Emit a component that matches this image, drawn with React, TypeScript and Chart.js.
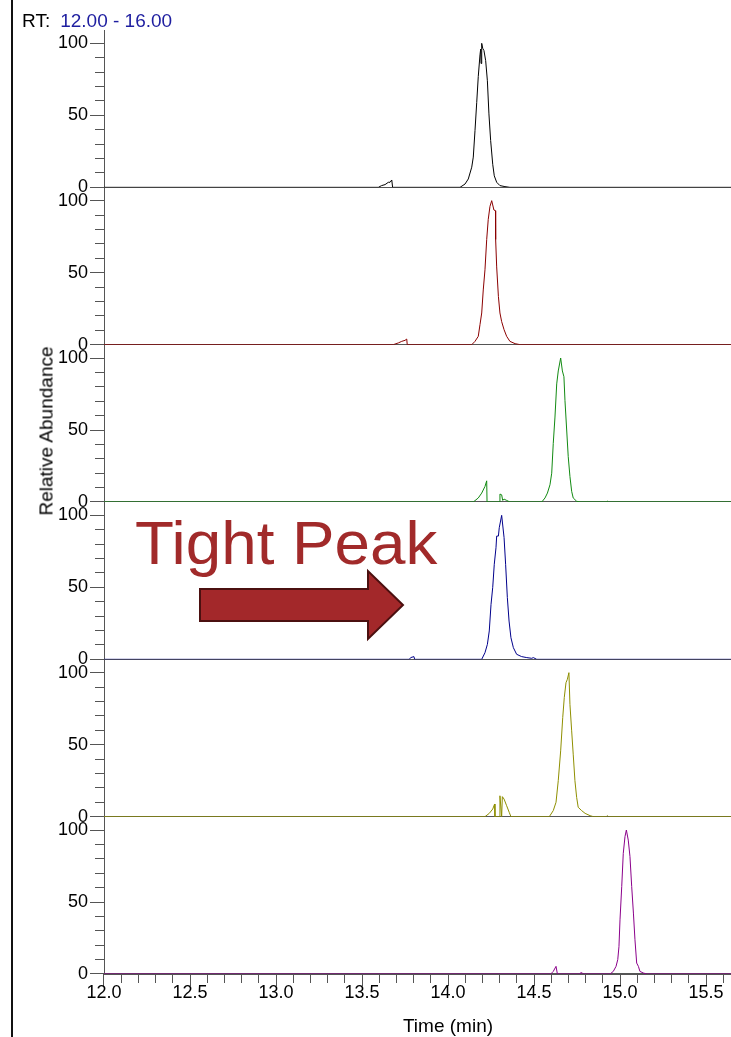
import React, { useEffect, useRef } from "react";
import { Chart, registerables } from "chart.js";

Chart.register(...registerables);

// ---------- data ----------
const rtRangeText = "12.00 - 16.00";
const xAxisTitle = "Time (min)";
const yAxisTitle = "Relative Abundance";
const annotationText = "Tight Peak";

const xTickValues = [
  12.0, 12.1, 12.2, 12.3, 12.4, 12.5, 12.6, 12.7, 12.8, 12.9,
  13.0, 13.1, 13.2, 13.3, 13.4, 13.5, 13.6, 13.7, 13.8, 13.9,
  14.0, 14.1, 14.2, 14.3, 14.4, 14.5, 14.6, 14.7, 14.8, 14.9,
  15.0, 15.1, 15.2, 15.3, 15.4, 15.5, 15.6, 15.7, 15.8, 15.9, 16.0,
];
const xLabelValues = [12.0, 12.5, 13.0, 13.5, 14.0, 14.5, 15.0, 15.5, 16.0];
const yTickValues = [0, 10, 20, 30, 40, 50, 60, 70, 80, 90, 100];
const yLabelValues = [0, 50, 100];

// [time (min), relative abundance (%)]
const traceBlack = [
  [12.0, 0], [13.595, 0], [13.614, 1.2], [13.634, 1.9], [13.653, 3.5], [13.663, 3.5],
  [13.673, 5.1], [13.678, 0], [14.07, 0], [14.099, 2.3], [14.118, 5.8], [14.138, 14],
  [14.147, 21], [14.157, 39.5], [14.167, 59], [14.176, 77], [14.186, 92], [14.19, 96],
  [14.192, 86], [14.196, 100], [14.202, 96.5], [14.209, 95], [14.219, 88], [14.229, 74],
  [14.238, 51], [14.248, 32.5], [14.26, 16], [14.269, 8], [14.283, 3.5], [14.302, 1.2],
  [14.331, 0.5], [14.36, 0], [16.0, 0],
];
const traceRed = [
  [12.0, 0], [13.682, 0], [13.711, 1.2], [13.731, 2.3], [13.75, 3], [13.76, 3.9],
  [13.763, 0], [14.138, 0], [14.157, 2.3], [14.176, 5.8], [14.186, 13.9], [14.196, 22],
  [14.205, 38], [14.215, 52], [14.225, 73], [14.234, 87], [14.244, 96], [14.254, 100],
  [14.26, 97], [14.267, 93.5], [14.276, 93], [14.277, 73], [14.283, 54], [14.293, 33.5],
  [14.302, 22], [14.312, 16], [14.326, 10.4], [14.341, 5.8], [14.36, 2.3], [14.39, 0.7],
  [14.419, 0], [16.0, 0],
];
const traceGreen = [
  [12.0, 0], [14.147, 0], [14.176, 2.8], [14.196, 6.2], [14.215, 10.8], [14.225, 14.7],
  [14.227, 0], [14.298, 0], [14.302, 5.5], [14.312, 5], [14.318, 1.1], [14.326, 2],
  [14.341, 1.1], [14.36, 0], [14.545, 0], [14.564, 2.8], [14.578, 6.2], [14.593, 12],
  [14.603, 20], [14.612, 40.7], [14.622, 59], [14.632, 82], [14.641, 91], [14.655, 100],
  [14.665, 91], [14.674, 87], [14.68, 70.6], [14.69, 50], [14.699, 31.5], [14.709, 17.7],
  [14.719, 7.4], [14.728, 2.8], [14.748, 0.5], [14.767, 0], [14.92, 0], [14.926, 0.6],
  [14.932, 0], [16.0, 0],
];
const traceBlue = [
  [12.0, 0], [13.775, 0], [13.783, 1.2], [13.802, 1.9], [13.806, 0], [14.196, 0],
  [14.215, 4.6], [14.229, 10.4], [14.24, 19.7], [14.25, 38], [14.26, 50], [14.269, 66],
  [14.279, 77.5], [14.283, 85.6], [14.293, 85.6], [14.298, 91.4], [14.312, 100],
  [14.326, 84.5], [14.335, 66], [14.345, 43], [14.355, 26.6], [14.366, 15], [14.38, 8.1],
  [14.399, 3.5], [14.428, 1.9], [14.458, 1.2], [14.487, 0.7], [14.496, 1.2], [14.516, 0],
  [16.0, 0],
];
const traceOlive = [
  [12.0, 0], [14.215, 0], [14.24, 2.3], [14.26, 5.3], [14.271, 8.8], [14.273, 0],
  [14.298, 0], [14.302, 14.5], [14.312, 0], [14.316, 13.9], [14.326, 12.2], [14.341, 7.6],
  [14.356, 3], [14.366, 0], [14.589, 0], [14.612, 4.2], [14.628, 10], [14.641, 25],
  [14.655, 45.7], [14.667, 68.8], [14.676, 82.7], [14.686, 93], [14.694, 95.4],
  [14.703, 100], [14.709, 78], [14.719, 59.6], [14.728, 43.4], [14.738, 25], [14.748, 13.4],
  [14.757, 6.5], [14.777, 4.2], [14.797, 2.3], [14.826, 0.7], [14.845, 0], [14.92, 0],
  [14.926, 0.7], [14.932, 0], [16.0, 0],
];
const tracePurple = [
  [12.0, 0], [14.597, 0], [14.612, 1.8], [14.628, 5.3], [14.636, 0], [14.767, 0],
  [14.772, 1], [14.783, 0.5], [14.787, 0], [14.942, 0], [14.961, 1.8], [14.977, 5.3],
  [14.987, 10], [14.994, 19], [15.0, 37.6], [15.01, 60.7], [15.019, 83.8], [15.029, 95.4],
  [15.037, 100], [15.048, 93], [15.058, 81.5], [15.068, 60.7], [15.078, 42.3],
  [15.087, 23.8], [15.097, 7.6], [15.107, 5.3], [15.116, 1.8], [15.136, 0.7], [15.155, 0],
  [16.0, 0],
];

const traces = [traceBlack, traceRed, traceGreen, traceBlue, traceOlive, tracePurple];
const traceNames = ["Trace 1", "Trace 2", "Trace 3", "Trace 4", "Trace 5", "Trace 6"];
const traceColors = ["#000000", "#8B0000", "#128A12", "#00008B", "#8F8F00", "#8B008B"];

// ---------- styling ----------
const FONT = '"Liberation Sans", Arial, Helvetica, sans-serif';
const AXIS_GRAY = "#555555";
const PANEL_MAX = 109.26; // leaves the gap above 100 in each stacked panel

const isIn = (list: number[], v: number) => list.some((l) => Math.abs(l - v) < 1e-6);

export default function App() {
  const canvasRef = useRef<HTMLCanvasElement | null>(null);

  useEffect(() => {
    const canvas = canvasRef.current;
    if (!canvas) return;

    const yScales: Record<string, any> = {};
    traces.forEach((_, i) => {
      yScales[`y${i}`] = {
        type: "linear",
        position: "left",
        stack: "panels",
        stackWeight: 1,
        weight: 10 - i,
        min: 0,
        max: PANEL_MAX,
        offset: false,
        afterBuildTicks: (s: any) => {
          s.ticks = yTickValues.map((v) => ({ value: v }));
        },
        afterFit: (s: any) => {
          s.width = 104;
        },
        ticks: {
          autoSkip: false,
          padding: 2,
          color: "#000",
          font: { family: FONT, size: 18, lineHeight: 1 },
          callback: (v: any) => (isIn(yLabelValues, Number(v)) ? String(v) : ""),
        },
        grid: {
          drawOnChartArea: true,
          color: (ctx: any) => (ctx.tick && ctx.tick.value === 0 ? AXIS_GRAY : "rgba(0,0,0,0)"),
          tickColor: AXIS_GRAY,
          tickLength: 14,
          lineWidth: 1,
          tickBorderDash: (ctx: any) =>
            ctx.tick && isIn(yLabelValues, ctx.tick.value) ? [] : [0, 5, 9, 40],
        },
        border: { display: true, color: AXIS_GRAY, width: 1 },
      };
    });

    const chart = new Chart(canvas, {
      type: "line",
      data: {
        datasets: traces.map((tr, i) => ({
          label: traceNames[i],
          data: tr.map(([x, y]) => ({ x, y })),
          borderColor: traceColors[i],
          backgroundColor: traceColors[i],
          borderWidth: 1,
          pointRadius: 0,
          tension: 0,
          fill: false,
          yAxisID: `y${i}`,
          xAxisID: "x",
        })),
      },
      options: {
        responsive: false,
        animation: false,
        devicePixelRatio: 1,
        events: [],
        layout: { padding: { left: 0, top: 30, right: 25, bottom: 0 } },
        plugins: {
          legend: { display: false },
          tooltip: { enabled: false },
          title: { display: false },
        },
        scales: {
          x: {
            type: "linear",
            position: "bottom",
            min: 12,
            max: 16,
            offset: false,
            afterBuildTicks: (s: any) => {
              s.ticks = xTickValues.map((v) => ({ value: v }));
            },
            afterFit: (s: any) => {
              s.height = 63;
            },
            ticks: {
              autoSkip: false,
              maxRotation: 0,
              minRotation: 0,
              padding: -2,
              color: "#000",
              font: { family: FONT, size: 18, lineHeight: 1 },
              callback: (v: any) => (isIn(xLabelValues, Number(v)) ? Number(v).toFixed(1) : ""),
            },
            grid: {
              drawOnChartArea: false,
              tickColor: AXIS_GRAY,
              tickLength: 12,
              tickBorderDash: (ctx: any) =>
                ctx.tick && isIn(xLabelValues, ctx.tick.value) ? [] : [8, 40],
            },
            border: { display: true, color: AXIS_GRAY, width: 1 },
            title: {
              display: true,
              text: xAxisTitle,
              color: "#000",
              font: { family: FONT, size: 19, lineHeight: 1 },
              padding: { top: 0, bottom: 1 },
            },
          },
          ...yScales,
        },
      } as any,
    });

    return () => chart.destroy();
  }, []);

  return (
    <div
      style={{
        position: "absolute",
        left: 0,
        top: 0,
        width: 731,
        height: 1037,
        overflow: "hidden",
        background: "#fff",
        fontFamily: FONT,
      }}
    >
      <canvas ref={canvasRef} width={817} height={1037} style={{ display: "block" }} />
      <div style={{ position: "absolute", left: 11, top: 0, width: 2, height: 1037, background: "#111" }} />
      <div
        style={{
          position: "absolute",
          left: 22,
          top: 11,
          fontSize: 19,
          lineHeight: 1,
          whiteSpace: "nowrap",
          color: "#000",
        }}
      >
        <span>RT:</span>
        <span style={{ color: "#1E1EA0", marginLeft: 10 }}>{rtRangeText}</span>
      </div>
      <div
        style={{
          position: "absolute",
          left: 46,
          top: 431,
          fontSize: 19,
          lineHeight: 1,
          whiteSpace: "nowrap",
          color: "#000",
          transform: "translate(-50%, -50%) rotate(-90deg)",
        }}
      >
        {yAxisTitle}
      </div>
      <div
        style={{
          position: "absolute",
          left: 135,
          top: 513,
          fontSize: 61,
          lineHeight: 1,
          whiteSpace: "nowrap",
          color: "#A12A2A",
          transform: "scaleX(1.045)",
          transformOrigin: "left center",
        }}
      >
        {annotationText}
      </div>
      <svg
        width={731}
        height={1037}
        style={{ position: "absolute", left: 0, top: 0, pointerEvents: "none" }}
      >
        <polygon
          points="200,589 368,589 368,571 403,605 368,639 368,621 200,621"
          fill="#A3282A"
          stroke="#4B1010"
          strokeWidth={2}
          strokeLinejoin="miter"
        />
      </svg>
    </div>
  );
}
